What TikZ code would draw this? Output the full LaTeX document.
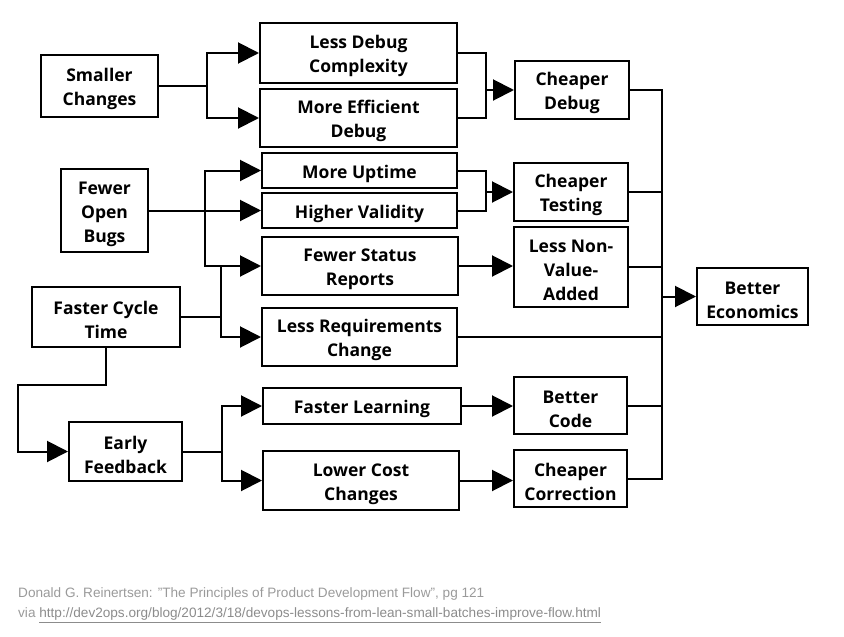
\documentclass[tikz,border=0pt]{standalone}
\usepackage{fontspec}
\setmainfont{Liberation Sans}
\newfontfamily\boxfont{Open Sans}
\usetikzlibrary{arrows.meta}
\definecolor{captiongray}{HTML}{9A9A9A}
\definecolor{linkgray}{HTML}{8C8C8C}
\newcommand\tpstrut{\rule{0pt}{20pt}}
\tikzset{
  box/.style={draw, line width=2pt, rectangle, inner sep=0pt, align=center,
    font=\boxfont\bfseries\fontsize{17.5}{24}\selectfont},
  conn/.style={line width=2pt, line join=miter, line cap=rect},
  arr/.style={conn, -{Triangle[length=21pt,width=21pt]}},
  caption/.style={anchor=west, inner sep=0pt, font=\fontsize{13.6}{15}\selectfont}
}
\begin{document}
\begin{tikzpicture}[x=1pt,y=-1pt]
\useasboundingbox (0,0) rectangle (844,637);
% left column
\node[box, minimum width=117pt, minimum height=62pt] (sc) at (99.5,86) {\tpstrut Smaller\\Changes};
\node[box, minimum width=87pt, minimum height=83pt] (fob) at (104.5,210.5) {\tpstrut Fewer\\Open\\Bugs};
\node[box, minimum width=148pt, minimum height=60pt] (fct) at (106,317) {\tpstrut Faster Cycle\\Time};
\node[box, minimum width=113pt, minimum height=59pt] (ef) at (125.5,451.5) {\tpstrut Early\\Feedback};
% middle column
\node[box, minimum width=197pt, minimum height=60pt] (ldc) at (358.5,53) {\tpstrut Less Debug\\Complexity};
\node[box, minimum width=197pt, minimum height=58pt] (med) at (358.5,118) {\tpstrut More Efficient\\Debug};
\node[box, minimum width=195pt, minimum height=35pt] (mu) at (359.5,170.5) {\tpstrut More Uptime};
\node[box, minimum width=195pt, minimum height=35pt] (hv) at (359.5,210.5) {\tpstrut Higher Validity};
\node[box, minimum width=196pt, minimum height=58pt] (fsr) at (360,266) {\tpstrut Fewer Status\\Reports};
\node[box, minimum width=195pt, minimum height=58pt] (lrc) at (359.5,337) {\tpstrut Less Requirements\\Change};
\node[box, minimum width=198pt, minimum height=36pt] (fl) at (362,406) {\tpstrut Faster Learning};
\node[box, minimum width=196pt, minimum height=59pt] (lcc) at (361,480.5) {\tpstrut Lower Cost\\Changes};
% right column
\node[box, minimum width=114pt, minimum height=58pt] (cd) at (572,90) {\tpstrut Cheaper\\Debug};
\node[box, minimum width=114pt, minimum height=58pt] (ct) at (571,192) {\tpstrut Cheaper\\Testing};
\node[box, minimum width=114pt, minimum height=80pt] (lnva) at (571,266.5) {\tpstrut Less Non-\\Value-\\Added};
\node[box, minimum width=113pt, minimum height=57pt] (bc) at (570.5,405.5) {\tpstrut Better\\Code};
\node[box, minimum width=113pt, minimum height=57pt] (cc) at (570.5,478.5) {\tpstrut Cheaper\\Correction};
\node[box, minimum width=111pt, minimum height=57pt] (be) at (752.5,296.5) {\tpstrut Better\\Economics};
% junction coordinates
\coordinate (j1) at (207,86);
\coordinate (b1) at (205,266);
\coordinate (b2) at (221,266);
\coordinate (k1) at (18,385);
\coordinate (j3) at (222,451.5);
\coordinate (j4) at (486,90);
\coordinate (j5) at (486,192);
\coordinate (j6) at (662,296.5);
% left connectors
\draw[conn] (sc.east) -- (j1);
\draw[arr] (j1) |- (ldc.west);
\draw[arr] (j1) |- (med.west);
\draw[arr] (fob.east) -- (hv.west);
\draw[arr] (b1) |- (mu.west);
\draw[arr] (b1) -- (fsr.west);
\draw[arr] (b2) |- (lrc.west);
\draw[conn] (fct.east) -- (fct.east -| b2);
\draw[arr] (fct.south) |- (k1) |- (ef.west);
\draw[conn] (ef.east) -- (j3);
\draw[arr] (j3) |- (fl.west);
\draw[arr] (j3) |- (lcc.west);
% middle connectors
\draw[conn] (ldc.east) -| (j4);
\draw[conn] (med.east) -| (j4);
\draw[arr] (j4) -- (cd.west);
\draw[conn] (mu.east) -| (j5);
\draw[conn] (hv.east) -| (j5);
\draw[arr] (j5) -- (ct.west);
\draw[arr] (fsr.east) -- (fsr.east -| lnva.west);
\draw[arr] (fl.east) -- (fl.east -| bc.west);
\draw[arr] (lcc.east) -- (lcc.east -| cc.west);
% right bus
\draw[conn] (cd.east) -| (j6);
\draw[conn] (cc.east) -| (j6);
\draw[conn] (ct.east) -- (ct.east -| j6);
\draw[conn] (lnva.east) -- (lnva.east -| j6);
\draw[conn] (lrc.east) -- (lrc.east -| j6);
\draw[conn] (bc.east) -- (bc.east -| j6);
\draw[arr] (j6) -- (be.west);
% caption
\node[caption, text=captiongray] (cap1) at (18,594) {Donald G. Reinertsen: "The Principles of Product Development Flow", pg 121};
\node[caption, text=captiongray] (cap2) at (18,615) {via \textcolor{linkgray}{\underline{http://dev2ops.org/blog/2012/3/18/devops-lessons-from-lean-small-batches-improve-flow.html}}};
\end{tikzpicture}
\end{document}
